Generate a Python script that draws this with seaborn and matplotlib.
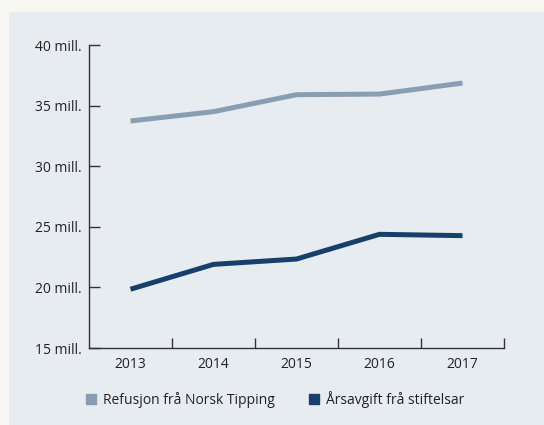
import matplotlib
matplotlib.use("Agg")
import matplotlib.pyplot as plt
from matplotlib.lines import Line2D
import seaborn as sns
import pandas as pd

years = ["2013", "2014", "2015", "2016", "2017"]
refusjon = [33.73, 34.5, 35.9, 35.95, 36.86]
arsavgift = [19.85, 21.9, 22.34, 24.38, 24.27]
series_names = ["Refusjon frå Norsk Tipping", "Årsavgift frå stiftelsar"]
y_ticks = [15, 20, 25, 30, 35, 40]
y_labels = [f"{v} mill." for v in y_ticks]

colors = ["#889fb3", "#16406a"]

df = pd.DataFrame({
    "year": years * 2,
    "value": refusjon + arsavgift,
    "series": [series_names[0]] * len(years) + [series_names[1]] * len(years),
})

sns.set_theme(style="white")
plt.rcParams["font.family"] = ["Open Sans", "DejaVu Sans"]
FS = 10

fig = plt.figure(figsize=(5.44, 4.25), dpi=100)
fig.patch.set_facecolor("#f7f6f3")
bg = fig.add_axes([9 / 544, 0, 1 - 9 / 544, 1 - 12 / 425], zorder=-10)
bg.set_facecolor("#e7ecf1")
bg.set_xticks([])
bg.set_yticks([])
for s in bg.spines.values():
    s.set_visible(False)

ax = fig.add_axes([89 / 544, 1 - 348 / 425, (504 - 89) / 544, (348 - 45) / 425])
ax.set_facecolor("none")

sns.lineplot(data=df, x="year", y="value", hue="series", palette=colors,
             linewidth=3.6, ax=ax, legend=False, sort=False)
for ln in ax.get_lines():
    ln.set_solid_joinstyle("miter")
    ln.set_solid_capstyle("butt")

ax.set_xlim(-0.5, 4.5)
ax.set_ylim(15, 40)
ax.set_xlabel("")
ax.set_ylabel("")

ax.set_xticks(range(len(years)))
ax.set_xticklabels(years, fontsize=FS, color="#222222")
ax.set_xticks([i + 0.5 for i in range(len(years))], minor=True)
ax.tick_params(axis="x", which="major", length=0, pad=6.5)
ax.tick_params(axis="x", which="minor", length=7, width=1.0, direction="in",
               color="#333333", bottom=True)

ax.set_yticks(y_ticks)
ax.set_yticklabels(y_labels, fontsize=FS, color="#222222")
ax.tick_params(axis="y", which="major", length=8, width=1.0, direction="in",
               color="#333333", pad=5, left=True)

for s in ["top", "right"]:
    ax.spines[s].set_visible(False)
for s in ["left", "bottom"]:
    ax.spines[s].set_color("#333333")
    ax.spines[s].set_linewidth(1.0)

handles = [Line2D([], [], marker="s", linestyle="none", markersize=7.3,
                  markerfacecolor=c, markeredgecolor=c) for c in colors]
fig.legend(handles, series_names, loc="center left",
           bbox_to_anchor=(86 / 544, 1 - 399 / 425), ncol=2, frameon=False,
           fontsize=FS, handlelength=0.75, handletextpad=0.5,
           columnspacing=2.4, borderpad=0, borderaxespad=0,
           labelcolor="#222222")

fig.savefig("out.png", dpi=100, facecolor=fig.get_facecolor())
